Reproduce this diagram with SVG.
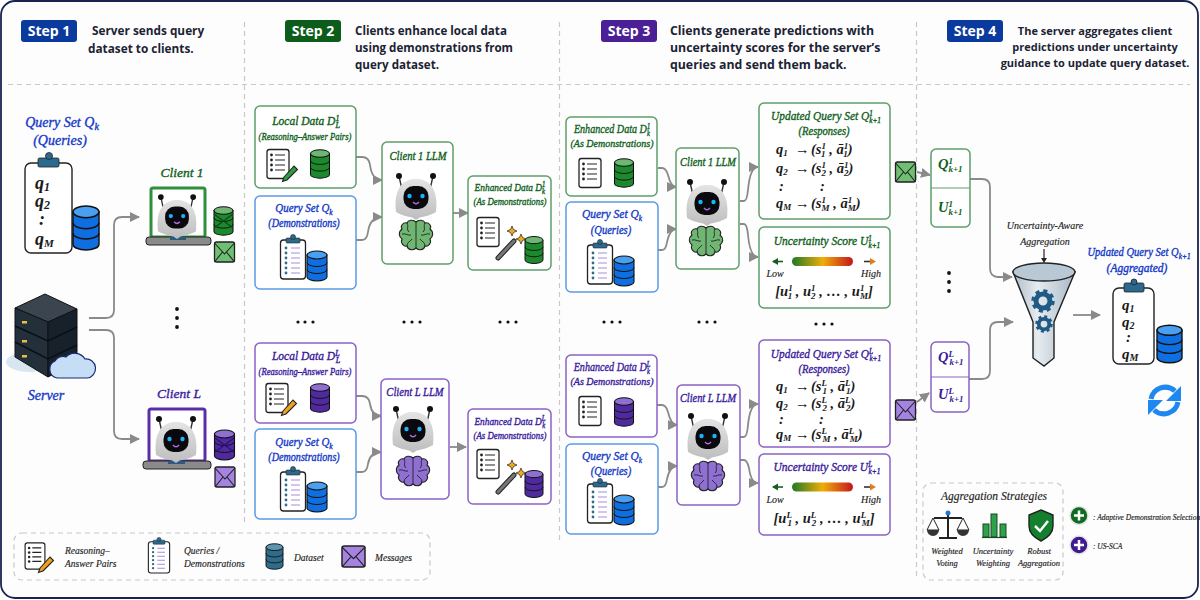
<svg xmlns="http://www.w3.org/2000/svg" width="1200" height="600" viewBox="0 0 1200 600">
<style>
.g{--a:#1c8a2c;--b:#6fb673;--e:#6fbf73;--t:#0f5f20;--s:#5d9f6b;--p:#2e9c3e}
.p{--a:#4f2a9e;--b:#8f70d2;--e:#a583e0;--t:#3a1a9c;--s:#8a62c4;--p:#f0a020}
.bl{--a:#0f6fe0;--b:#4aa0f0;--t:#1438c8;--s:#5a9be8}
.te{--a:#2f6b8a;--b:#5c95ae}
.box{fill:#fff;stroke-width:1.5}
.bg{stroke:#5d9f6b}.bp{stroke:#8a62c4}.bb{stroke:#5a9be8}
text{font-family:"Liberation Serif",serif;font-style:italic;font-weight:400;stroke-width:.35}
.tg{fill:#0f5f20;stroke:#0f5f20}.tp{fill:#3a1a9c;stroke:#3a1a9c}.tb{fill:#1438c8;stroke:#1438c8}.tk{fill:#222;stroke:#222;stroke-width:.15}
.mid{text-anchor:middle}
.t{font-size:12.5px}.st{font-size:10px}.big{font-size:14px}.sm{font-size:11.5px}
.hd{font-family:"Open Sans","Liberation Sans",sans-serif;font-style:normal;font-weight:700;font-size:12.3px;fill:#1c2333}
.bd{font-family:"Open Sans","Liberation Sans",sans-serif;font-style:normal;font-weight:700;font-size:14px;fill:#fff;text-anchor:middle}
.m{font-family:"Liberation Serif",serif;font-weight:700;font-size:14.5px;fill:#1a1a1a}
.lg{font-size:9.5px;fill:#222;stroke:#222;stroke-width:.15}
.dash{fill:none;stroke:#c8c8c8;stroke-width:1.2;stroke-dasharray:5 4}
.conn{fill:none;stroke:#8a8a8a;stroke-width:1.8;marker-end:url(#ah)}
.dbf{fill:var(--a);stroke:#111;stroke-width:1.1}
.dbt{fill:var(--b);stroke:#111;stroke-width:1.1}
.ln{fill:none;stroke:#111;stroke-width:1}
.envf{fill:var(--e);stroke:#222;stroke-width:1.3}
.brf{fill:var(--b);stroke:#222;stroke-width:1.1}
</style>
<defs>
<marker id="ah" markerUnits="userSpaceOnUse" markerWidth="11" markerHeight="11" refX="9" refY="5" orient="auto"><path d="M0,0L10,5L0,10Z" fill="#8a8a8a"/></marker>
<linearGradient id="rg" x1="0" y1="0" x2="0" y2="1"><stop offset="0" stop-color="#e4e4e4"/><stop offset="1" stop-color="#bdbdbd"/></linearGradient>
<linearGradient id="ug"><stop offset="0" stop-color="#1c7a24"/><stop offset=".5" stop-color="#f0ad0a"/><stop offset="1" stop-color="#c4161c"/></linearGradient>
<linearGradient id="fg"><stop offset="0" stop-color="#aebcc8"/><stop offset=".4" stop-color="#e6ecf0"/><stop offset="1" stop-color="#a8b7c4"/></linearGradient>
<g id="db"><path class="dbf" d="M-10,-11V11A10,4 0 0 0 10,11V-11Z"/><ellipse class="dbt" cy="-11" rx="10" ry="4"/><path class="ln" d="M-10,-3.5A10,4 0 0 0 10,-3.5M-10,3.5A10,4 0 0 0 10,3.5"/></g>
<g id="doc"><rect x="-11" y="-14.5" width="22" height="29" rx="2.5" fill="#fff" stroke="#222" stroke-width="1.3"/><path d="M-3,-9H7M-3,-4H7M-3,1H7M-3,6H7" stroke="#222" stroke-width="1.2"/><g fill="#222"><circle cx="-6.5" cy="-9" r="1.4"/><circle cx="-6.5" cy="-4" r="1.4"/><circle cx="-6.5" cy="1" r="1.4"/><circle cx="-6.5" cy="6" r="1.4"/></g></g>
<g id="pen"><path d="M-5,6L5,-5L8.500,-1.500L-2,9L-6.500,10.500Z" fill="var(--p)" stroke="#222" stroke-width="1.1"/></g>
<g id="clip"><rect x="-12.5" y="-19" width="25" height="39" rx="3" fill="#fff" stroke="#222" stroke-width="1.3"/><rect x="-7" y="-21" width="14" height="5" rx="1" fill="#2b6a8e" stroke="#222" stroke-width=".6"/><circle cy="-22" r="2.5" fill="#2b6a8e" stroke="#222" stroke-width=".6"/><path d="M-2,-11H7M-2,-6H7M-2,-1H7M-2,4H7M-2,9H7M-2,14H7" stroke="#a78bdc" stroke-width="1.2"/><g fill="#2f6b8a"><circle cx="-7" cy="-11" r="1.4"/><circle cx="-7" cy="-6" r="1.4"/><circle cx="-7" cy="-1" r="1.4"/><circle cx="-7" cy="4" r="1.4"/><circle cx="-7" cy="9" r="1.4"/><circle cx="-7" cy="14" r="1.4"/></g></g>
<g id="env"><rect class="envf" x="-10" y="-10" width="20" height="20" rx="2"/><path d="M-10,-9L0,2L10,-9M-10,10L-2,0M10,10L2,0" fill="none" stroke="#222" stroke-width="1.1"/></g>
<g id="robot"><path d="M-17,-22L-13,-4M17,-22L13,-4" stroke="#333" stroke-width="1.4"/><circle cx="-17" cy="-22" r="3" fill="#111"/><circle cx="17" cy="-22" r="3" fill="#111"/><path d="M-20,14C-23,-12 -11,-19 0,-19C11,-19 23,-12 20,14C14,18 4,19 3,20L0,22L-3,20C-4,19 -14,18 -20,14Z" fill="url(#rg)"/><rect x="-12.5" y="-12" width="25" height="23" rx="10" fill="#0a0a0e"/><circle cx="-6.5" cy="-2" r="2.2" fill="#18b4ff"/><circle cx="6.5" cy="-2" r="2.2" fill="#18b4ff"/><path d="M-3,4Q0,7.500 3,4" fill="none" stroke="#b66be0" stroke-width="1.4"/></g>
<g id="brain"><path class="brf" d="M0,-14C-3,-17 -8,-16 -9,-13C-13,-14 -16,-10 -14,-7C-18,-4 -17,1 -14,3C-16,7 -12,11 -9,10C-8,14 -3,15 0,12C3,15 8,14 9,10C12,11 16,7 14,3C17,1 18,-4 14,-7C16,-10 13,-14 9,-13C8,-16 3,-17 0,-14Z"/><path d="M0,-14V12M-9,-13C-7,-9 -10,-7 -7,-4M-14,-2C-10,-3 -8,0 -5,-1M-9,10C-9,6 -6,6 -4,3M9,-13C7,-9 10,-7 7,-4M14,-2C10,-3 8,0 5,-1M9,10C9,6 6,6 4,3" fill="none" stroke="#222" stroke-width=".9"/></g>
<g id="wand"><path d="M-10,12L6,-5" stroke="#222" stroke-width="5" stroke-linecap="round"/><path d="M-10,12L6,-5" stroke="#777" stroke-width="3" stroke-linecap="round"/><path d="M4,-20l1.500,3.500l3.500,1.500l-3.500,1.500l-1.500,3.500l-1.500,-3.500l-3.500,-1.500l3.500,-1.500zM13,-12l1.500,3.500l3.500,1.500l-3.500,1.500l-1.500,3.500l-1.500,-3.500l-3.500,-1.500l3.500,-1.500z" fill="#f2a91d" stroke="#222" stroke-width=".7"/></g>
<g id="ubar"><rect x="-32" y="-4.500" width="61" height="9" rx="4.500" fill="url(#ug)"/><path d="M-51,0H-41" stroke="#1c5a24" stroke-width="1.600"/><path d="M-52,0L-46,-3.500V3.500Z" fill="#1c5a24"/><path d="M40,0H50" stroke="#333" stroke-width="1.600"/><path d="M52,0L46,-3.500V3.500Z" fill="#e57c1a"/></g>
<g id="gear"><circle r="7" fill="none" stroke="#1f5b85" stroke-width="5"/><circle r="10" fill="none" stroke="#1f5b85" stroke-width="3.500" stroke-dasharray="4 3.850"/></g>
</defs>

<rect x="1" y="1" width="1197" height="597" rx="14" fill="#fdfdfe" stroke="#1a2350" stroke-width="1.800"/>
<g id="dividers">
<path class="dash" d="M8,84.500H1190M244.500,22V525M559.500,22V540M916.500,22V580"/>
</g>

<g id="step1-header"><rect x="21" y="20" width="56" height="22" rx="3" fill="#0b3a9e"/><text class="bd" x="49" y="36">Step 1</text><text class="hd" style="font-size:11.800px" x="92" y="35">Server sends query</text><text class="hd" style="font-size:11.800px" x="88" y="53">dataset to clients.</text></g>
<g id="step2-header"><rect x="285" y="20" width="56" height="22" rx="3" fill="#0c5c1c"/><text class="bd" x="313" y="36">Step 2</text><text class="hd" style="font-size:11.600px" x="355" y="35">Clients enhance local data</text><text class="hd" style="font-size:11.600px" x="355" y="52">using demonstrations from</text><text class="hd" style="font-size:11.600px" x="355" y="69">query dataset.</text></g>
<g id="step3-header"><rect x="601" y="20" width="56" height="22" rx="3" fill="#4b1f96"/><text class="bd" x="629" y="36">Step 3</text><text class="hd" x="670" y="35">Clients generate predictions with</text><text class="hd" x="670" y="52">uncertainty scores for the server’s</text><text class="hd" x="670" y="69">queries and send them back.</text></g>
<g id="step4-header"><rect x="947" y="20" width="56" height="22" rx="3" fill="#0b3a9e"/><text class="bd" x="975" y="36">Step 4</text><g text-anchor="middle"><text class="hd" style="font-size:11px" x="1095" y="35">The server aggregates client</text><text class="hd" style="font-size:11px" x="1095" y="51">predictions under uncertainty</text><text class="hd" style="font-size:11px" x="1095" y="67">guidance to update query dataset.</text></g></g>

<g id="connectors">
<path class="conn" d="M89,318H106Q114,318 114,310V225Q114,217 122,217H139"/>
<path class="conn" d="M89,330H106Q114,330 114,338V431Q114,439 122,439H139"/>
<path class="conn" d="M356,157H362Q369,157 370,165Q372,180 382,180"/>
<path class="conn" d="M356,240H362Q367,240 368,232Q370,217 382,217"/>
<path class="conn" d="M453,213H468"/>
<path class="conn" d="M356,396H362Q369,396 370,404Q372,416 381,416"/>
<path class="conn" d="M356,472H362Q367,472 368,464Q370,452 381,452"/>
<path class="conn" d="M450,447H466"/>
<path class="conn" d="M658,168H662Q666,168 668,175Q671,187 676,187"/>
<path class="conn" d="M658,250H662Q666,250 667,242Q670,229 676,229"/>
<path class="conn" d="M740,201H744Q747,201 748,190Q750,167 758,167"/>
<path class="conn" d="M740,224H744Q747,224 748,235Q750,257 758,257"/>
<path class="conn" d="M657,405H662Q666,405 668,412Q671,425 677,425"/>
<path class="conn" d="M658,487H662Q666,487 667,479Q670,466 677,466"/>
<path class="conn" d="M740,437H744Q747,437 748,425Q750,404 758,404"/>
<path class="conn" d="M740,460H744Q747,460 749,468Q751,483 758,483"/>
<path class="conn" d="M917,172L930,175"/>
<path class="conn" d="M917,402L929,393"/>
<path class="conn" d="M970,179H982Q990,179 990,187V268Q990,277 998,277H1012"/>
<path class="conn" d="M969,379H982Q990,379 990,371V330Q990,322 998,322H1013"/>
<path class="conn" d="M1073,315H1100"/>
<path d="M1044,249V259" stroke="#222" stroke-width="1.200"/><path d="M1044,263L1041,258H1047Z" fill="#222"/>
</g>

<g id="query-set">
<text class="big tb mid" x="62" y="127">Query Set Q<tspan font-size="10" dy="3">k</tspan></text>
<text class="big tb mid" x="60" y="145">(Queries)</text>
<rect x="25" y="163" width="47" height="90" rx="6" fill="#fff" stroke="#222" stroke-width="1.400"/>
<rect x="38" y="158" width="21" height="9" rx="1.500" fill="#2b6a8e" stroke="#222" stroke-width=".8"/><circle cx="49" cy="156" r="3.500" fill="#2b6a8e" stroke="#222" stroke-width=".8"/>
<text class="m" style="font-size:18px" x="35" y="189">q<tspan font-size="12" dy="2">1</tspan></text><text class="m" style="font-size:18px" x="35" y="207">q<tspan font-size="12" dy="2">2</tspan></text><text class="m" style="font-size:18px" x="39" y="225">:</text><text class="m" style="font-size:18px" x="35" y="245">q<tspan font-size="11" dy="2">M</tspan></text>
<use href="#db" class="bl" transform="translate(86,228) scale(1.300,1.470)"/>
</g>

<g id="server">
<ellipse cx="30" cy="362" rx="24" ry="10" fill="#d8e6f2"/>
<path d="M45,294L77,309L48,322L15,308Z" fill="#3a4550" stroke="#111"/>
<path d="M15,308L48,322V377L15,357Z" fill="#23303c" stroke="#111"/>
<path d="M77,309L48,322V377L77,362Z" fill="#17212b" stroke="#111"/>
<path d="M15,326L48,341L77,327M15,342L48,359L77,345" fill="none" stroke="#0a0f14" stroke-width="1.500"/>
<g fill="#e8c040"><rect x="22" y="321" width="5" height="2.500"/><rect x="22" y="340" width="5" height="2.500"/><rect x="22" y="355" width="5" height="2.500"/></g>
<path d="M57,378A9,9 0 0 1 55,361A9,9 0 0 1 66,357A12,12 0 0 1 85,359A9,9 0 0 1 87,378Z" fill="#c6def5" stroke="#1a2b70" stroke-width="1.200"/>
<text class="big tb mid" x="46" y="400">Server</text>
</g>

<g id="client-1">
<text class="tg mid" style="font-size:13.500px" x="182" y="177">Client 1</text>
<rect x="151" y="188" width="54" height="49" rx="2" fill="#fff" stroke="#2f8f3a" stroke-width="3"/>
<rect x="146" y="237" width="65" height="8" rx="3" fill="#8a8a8a" stroke="#222"/><rect x="170" y="237" width="16" height="3" fill="#2b5a80"/>
<use href="#robot" transform="translate(177,218) scale(.95)"/>
<use href="#db" class="g" transform="translate(223.500,221) scale(.95)"/>
<path d="M214,214L233,228M233,214L214,228" stroke="#0b4a18" stroke-width="1.200"/>
<use href="#env" class="g" transform="translate(224.500,252)"/>
</g>

<g id="client-l">
<text class="tp mid" style="font-size:13.500px" x="179" y="398">Client L</text>
<rect x="149" y="409" width="56" height="52" rx="2" fill="#fff" stroke="#5a2ea8" stroke-width="3"/>
<rect x="143" y="461" width="68" height="8" rx="3" fill="#8a8a8a" stroke="#222"/><rect x="168" y="461" width="17" height="3" fill="#2b5a80"/>
<use href="#robot" transform="translate(176,441)"/>
<use href="#db" class="p" transform="translate(224.500,445)"/>
<path d="M215,438L234,452M234,438L215,452" stroke="#2b1070" stroke-width="1.200"/>
<use href="#env" class="p" transform="translate(225,477)"/>
</g>

<g id="ellipsis-dots" fill="#111">
<circle cx="177" cy="309" r="1.900"/><circle cx="177" cy="318" r="1.900"/><circle cx="177" cy="327" r="1.900"/>
<circle cx="298" cy="322" r="1.600"/><circle cx="305" cy="322" r="1.600"/><circle cx="313" cy="322" r="1.600"/>
<circle cx="404" cy="322" r="1.600"/><circle cx="412" cy="322" r="1.600"/><circle cx="420" cy="322" r="1.600"/>
<circle cx="500" cy="322" r="1.600"/><circle cx="508" cy="322" r="1.600"/><circle cx="516" cy="322" r="1.600"/>
<circle cx="604" cy="322" r="1.600"/><circle cx="612" cy="322" r="1.600"/><circle cx="620" cy="322" r="1.600"/>
<circle cx="699" cy="322" r="1.600"/><circle cx="707" cy="322" r="1.600"/><circle cx="715" cy="322" r="1.600"/>
<circle cx="816" cy="324" r="1.600"/><circle cx="824" cy="324" r="1.600"/><circle cx="832" cy="324" r="1.600"/>
<circle cx="949" cy="273" r="1.900"/><circle cx="949" cy="282" r="1.900"/><circle cx="949" cy="291" r="1.900"/>
</g>

<!-- step 2 top -->
<g id="local-data-1" class="g"><rect class="box bg" x="255" y="106" width="101" height="82" rx="5"/>
<text class="sm tg mid" transform="translate(306,125)">Local Data  D<tspan font-size="8" dy="-4">1</tspan><tspan font-size="8" dx="-4" dy="7">L</tspan></text>
<text class="st tg mid" transform="translate(305,140) scale(.86,1)">(Reasoning–Answer Pairs)</text>
<use href="#doc" transform="translate(278,164)"/><use href="#pen" transform="translate(289,171)"/><use href="#db" transform="translate(320,164) scale(.95)"/></g>
<g id="query-set-2a" class="bl"><rect class="box bb" x="255" y="196" width="101" height="93" rx="5"/>
<text class="sm tb mid" transform="translate(304,212) scale(.95,1)">Query Set  Q<tspan font-size="8" dy="3">k</tspan></text>
<text class="sm tb mid" transform="translate(304,227) scale(.88,1)">(Demonstrations)</text>
<use href="#clip" transform="translate(293,259)"/><use href="#db" transform="translate(317,266)"/></g>
<g id="client-1-llm-a" class="g"><rect class="box bg" x="382" y="142" width="71" height="122" rx="5"/>
<text class="sm tg mid" transform="translate(418,160) scale(.92,1)">Client 1 LLM</text>
<use href="#robot" transform="translate(416,198)"/><use href="#brain" transform="translate(416,236)"/></g>
<g id="enhanced-1a" class="g"><rect class="box bg" x="468" y="176" width="83" height="94" rx="5"/>
<text class="tg mid" style="font-size:11px" transform="translate(510,191) scale(.85,1)">Enhanced Data D<tspan font-size="8" dy="-4">1</tspan><tspan font-size="8" dx="-4" dy="7">k</tspan></text>
<text class="st tg mid" transform="translate(510,205) scale(.88,1)">(As Demonstrations)</text>
<use href="#doc" transform="translate(488,232)"/><use href="#wand" transform="translate(508,246)"/><use href="#db" transform="translate(534,250) scale(.9)"/></g>

<!-- step 2 bottom -->
<g id="local-data-l" class="p"><rect class="box bp" x="255" y="343" width="101" height="80" rx="5"/>
<text class="sm tp mid" transform="translate(306,360)">Local Data  D<tspan font-size="8" dy="-4">L</tspan><tspan font-size="8" dx="-4" dy="7">L</tspan></text>
<text class="st tp mid" transform="translate(305,375) scale(.86,1)">(Reasoning–Answer Pairs)</text>
<use href="#doc" transform="translate(277,398)"/><use href="#pen" transform="translate(288,405)"/><use href="#db" transform="translate(320,398) scale(.95)"/></g>
<g id="query-set-2b" class="bl"><rect class="box bb" x="255" y="429" width="101" height="90" rx="5"/>
<text class="sm tb mid" transform="translate(304,446) scale(.95,1)">Query Set  Q<tspan font-size="8" dy="3">k</tspan></text>
<text class="sm tb mid" transform="translate(304,461) scale(.88,1)">(Demonstrations)</text>
<use href="#clip" transform="translate(293,491)"/><use href="#db" transform="translate(317,497)"/></g>
<g id="client-l-llm-a" class="p"><rect class="box bp" x="381" y="379" width="68" height="120" rx="5"/>
<text class="sm tp mid" transform="translate(415,396) scale(.92,1)">Client L LLM</text>
<use href="#robot" transform="translate(413,431)"/><use href="#brain" transform="translate(413,472)"/></g>
<g id="enhanced-la" class="p"><rect class="box bp" x="468" y="409" width="83" height="95" rx="5"/>
<text class="tp mid" style="font-size:11px" transform="translate(510,425) scale(.85,1)">Enhanced Data D<tspan font-size="8" dy="-4">L</tspan><tspan font-size="8" dx="-4" dy="7">k</tspan></text>
<text class="st tp mid" transform="translate(510,439) scale(.88,1)">(As Demonstrations)</text>
<use href="#doc" transform="translate(488,464)"/><use href="#wand" transform="translate(508,480)"/><use href="#db" transform="translate(534,484) scale(.9)"/></g>

<!-- step 3 top -->
<g id="enhanced-1b" class="g"><rect class="box bg" x="566" y="117" width="91" height="79" rx="5"/>
<text class="t tg mid" transform="translate(612,133) scale(.81,1)">Enhanced Data D<tspan font-size="8" dy="-4">1</tspan><tspan font-size="8" dx="-4" dy="7">k</tspan></text>
<text class="tg mid" style="font-size:11px" transform="translate(612,147) scale(.91,1)">(As Demonstrations)</text>
<use href="#doc" transform="translate(590,173)"/><use href="#db" transform="translate(624,173) scale(.95)"/></g>
<g id="query-set-3a" class="bl"><rect class="box bb" x="566" y="202" width="92" height="90" rx="5"/>
<text class="t tb mid" transform="translate(612,218) scale(.92,1)">Query Set  Q<tspan font-size="8" dy="3">k</tspan></text>
<text class="sm tb mid" transform="translate(611,234) scale(.92,1)">(Queries)</text>
<use href="#clip" transform="translate(600,264)"/><use href="#db" transform="translate(624,271)"/></g>
<g id="client-1-llm-b" class="g"><rect class="box bg" x="676" y="148" width="63" height="121" rx="5"/>
<text class="sm tg mid" transform="translate(708,166) scale(.9,1)">Client 1 LLM</text>
<use href="#robot" transform="translate(707,204)"/><use href="#brain" transform="translate(706,242)"/></g>
<g id="updated-1" class="g"><rect class="box bg" x="759" y="103" width="131" height="116" rx="5"/>
<text class="t tg mid" transform="translate(826,120) scale(.91,1)">Updated Query Set  Q<tspan font-size="8" dy="-4">1</tspan><tspan font-size="8" dx="-4" dy="7">k+1</tspan></text>
<text class="sm tg mid" transform="translate(824,135) scale(.92,1)">(Responses)</text>
<text class="m" x="776" y="154">q<tspan font-size="9" dy="2">1</tspan><tspan x="795" dy="-2">→</tspan><tspan x="811">(s</tspan><tspan font-size="9" dy="-5">1</tspan><tspan font-size="9" dx="-4.500" dy="8">1</tspan><tspan dy="-3"> , ā</tspan><tspan font-size="9" dy="-5">1</tspan><tspan font-size="9" dx="-4.500" dy="8">1</tspan><tspan dy="-3">)</tspan></text>
<text class="m" x="776" y="173">q<tspan font-size="9" dy="2">2</tspan><tspan x="795" dy="-2">→</tspan><tspan x="811">(s</tspan><tspan font-size="9" dy="-5">1</tspan><tspan font-size="9" dx="-4.500" dy="8">2</tspan><tspan dy="-3"> , ā</tspan><tspan font-size="9" dy="-5">1</tspan><tspan font-size="9" dx="-4.500" dy="8">2</tspan><tspan dy="-3">)</tspan></text>
<text class="m" x="779" y="191">:</text><text class="m" x="820" y="191">:</text>
<text class="m" x="776" y="208">q<tspan font-size="9" dy="2">M</tspan><tspan x="795" dy="-2">→</tspan><tspan x="811">(s</tspan><tspan font-size="9" dy="-5">1</tspan><tspan font-size="9" dx="-4.500" dy="8">M</tspan><tspan dy="-3"> , ā</tspan><tspan font-size="9" dy="-5">1</tspan><tspan font-size="9" dx="-4.500" dy="8">M</tspan><tspan dy="-3">)</tspan></text></g>
<g id="uncertainty-1" class="g"><rect class="box bg" x="759" y="227" width="131" height="81" rx="5"/>
<text class="t tg mid" transform="translate(827,245) scale(.92,1)">Uncertainty Score  U<tspan font-size="8" dy="-4">1</tspan><tspan font-size="8" dx="-4" dy="7">k+1</tspan></text>
<use href="#ubar" transform="translate(824,261.500)"/>
<text class="st tk mid" x="775" y="277">Low</text><text class="st tk mid" x="871" y="277">High</text>
<text class="m mid" x="824" y="296">[u<tspan font-size="9" dy="-5">1</tspan><tspan font-size="9" dx="-4.500" dy="8">1</tspan><tspan dy="-3"> , u</tspan><tspan font-size="9" dy="-5">1</tspan><tspan font-size="9" dx="-4.500" dy="8">2</tspan><tspan dy="-3"> , … , u</tspan><tspan font-size="9" dy="-5">1</tspan><tspan font-size="9" dx="-4.500" dy="8">M</tspan><tspan dy="-3">]</tspan></text></g>

<!-- step 3 bottom -->
<g id="enhanced-lb" class="p"><rect class="box bp" x="566" y="355" width="91" height="82" rx="5"/>
<text class="t tp mid" transform="translate(612,371) scale(.81,1)">Enhanced Data D<tspan font-size="8" dy="-4">L</tspan><tspan font-size="8" dx="-4" dy="7">k</tspan></text>
<text class="tp mid" style="font-size:11px" transform="translate(612,385) scale(.91,1)">(As Demonstrations)</text>
<use href="#doc" transform="translate(590,411)"/><use href="#db" transform="translate(624,412) scale(.95)"/></g>
<g id="query-set-3b" class="bl"><rect class="box bb" x="566" y="444" width="92" height="90" rx="5"/>
<text class="t tb mid" transform="translate(612,460) scale(.92,1)">Query Set  Q<tspan font-size="8" dy="3">k</tspan></text>
<text class="sm tb mid" transform="translate(611,475) scale(.92,1)">(Queries)</text>
<use href="#clip" transform="translate(600,503)"/><use href="#db" transform="translate(624,510)"/></g>
<g id="client-l-llm-b" class="p"><rect class="box bp" x="677" y="385" width="63" height="120" rx="5"/>
<text class="sm tp mid" transform="translate(708,402) scale(.9,1)">Client L LLM</text>
<use href="#robot" transform="translate(708,438)"/><use href="#brain" transform="translate(708,477)"/></g>
<g id="updated-l" class="p"><rect class="box bp" x="759" y="340" width="131" height="107" rx="5"/>
<text class="t tp mid" transform="translate(826,358) scale(.91,1)">Updated Query Set  Q<tspan font-size="8" dy="-4">L</tspan><tspan font-size="8" dx="-4" dy="7">k+1</tspan></text>
<text class="sm tp mid" transform="translate(824,373) scale(.92,1)">(Responses)</text>
<text class="m" x="776" y="391">q<tspan font-size="9" dy="2">1</tspan><tspan x="795" dy="-2">→</tspan><tspan x="811">(s</tspan><tspan font-size="9" dy="-5">L</tspan><tspan font-size="9" dx="-4.500" dy="8">1</tspan><tspan dy="-3"> , ā</tspan><tspan font-size="9" dy="-5">L</tspan><tspan font-size="9" dx="-4.500" dy="8">1</tspan><tspan dy="-3">)</tspan></text>
<text class="m" x="776" y="408">q<tspan font-size="9" dy="2">2</tspan><tspan x="795" dy="-2">→</tspan><tspan x="811">(s</tspan><tspan font-size="9" dy="-5">L</tspan><tspan font-size="9" dx="-4.500" dy="8">2</tspan><tspan dy="-3"> , ā</tspan><tspan font-size="9" dy="-5">L</tspan><tspan font-size="9" dx="-4.500" dy="8">2</tspan><tspan dy="-3">)</tspan></text>
<text class="m" x="779" y="424">:</text><text class="m" x="819" y="424">:</text>
<text class="m" x="776" y="439">q<tspan font-size="9" dy="2">M</tspan><tspan x="795" dy="-2">→</tspan><tspan x="811">(s</tspan><tspan font-size="9" dy="-5">L</tspan><tspan font-size="9" dx="-4.500" dy="8">M</tspan><tspan dy="-3"> , ā</tspan><tspan font-size="9" dy="-5">L</tspan><tspan font-size="9" dx="-4.500" dy="8">M</tspan><tspan dy="-3">)</tspan></text></g>
<g id="uncertainty-l" class="p"><rect class="box bp" x="759" y="454" width="131" height="81" rx="5"/>
<text class="t tp mid" transform="translate(827,471) scale(.92,1)">Uncertainty Score  U<tspan font-size="8" dy="-4">L</tspan><tspan font-size="8" dx="-4" dy="7">k+1</tspan></text>
<use href="#ubar" transform="translate(824,487)"/>
<text class="st tk mid" x="775" y="503">Low</text><text class="st tk mid" x="871" y="503">High</text>
<text class="m mid" x="824" y="523">[u<tspan font-size="9" dy="-5">L</tspan><tspan font-size="9" dx="-4.500" dy="8">1</tspan><tspan dy="-3"> , u</tspan><tspan font-size="9" dy="-5">L</tspan><tspan font-size="9" dx="-4.500" dy="8">2</tspan><tspan dy="-3"> , … , u</tspan><tspan font-size="9" dy="-5">L</tspan><tspan font-size="9" dx="-4.500" dy="8">M</tspan><tspan dy="-3">]</tspan></text></g>

<!-- step 4 -->
<use id="envelope-1" href="#env" class="g" transform="translate(905.500,172)"/>
<use id="envelope-l" href="#env" class="p" transform="translate(905.500,410)"/>
<g id="qu-1"><rect class="box bg" x="931" y="149" width="39" height="78" rx="5"/><path d="M931,188H970" stroke="#5d9f6b" stroke-width="1.200"/>
<text class="m" style="fill:#0f5f20" x="938" y="169">Q<tspan font-size="9" dy="-5">1</tspan><tspan font-size="9" dx="-4.500" dy="8">k+1</tspan></text>
<text class="m" style="fill:#0f5f20" x="938" y="212">U<tspan font-size="9" dy="-5">1</tspan><tspan font-size="9" dx="-4.500" dy="8">k+1</tspan></text></g>
<g id="qu-l"><rect class="box bp" x="931" y="342" width="38" height="70" rx="5"/><path d="M931,377H969" stroke="#8a62c4" stroke-width="1.200"/>
<text class="m" style="fill:#3a1a9c" x="938" y="362">Q<tspan font-size="9" dy="-5">L</tspan><tspan font-size="9" dx="-4.500" dy="8">k+1</tspan></text>
<text class="m" style="fill:#3a1a9c" x="938" y="399">U<tspan font-size="9" dy="-5">L</tspan><tspan font-size="9" dx="-4.500" dy="8">k+1</tspan></text></g>
<g id="funnel">
<text class="tk mid" x="1045" y="229" font-size="10">Uncertainty-Aware</text>
<text class="tk mid" x="1045" y="245" font-size="10">Aggregation</text>
<path d="M1013,272L1033,322V358L1044,366L1054,358V322L1075,272Z" fill="url(#fg)" stroke="#222" stroke-width="1.400"/>
<ellipse cx="1044" cy="272" rx="31" ry="9" fill="#b8c8d4" stroke="#222" stroke-width="1.400"/>
<use href="#gear" transform="translate(1043,301)"/><use href="#gear" transform="translate(1044,324) scale(.75)"/>
</g>
<g id="updated-aggregated">
<text class="sm tb mid" transform="translate(1139,256) scale(.92,1)">Updated Query Set  Q<tspan font-size="8" dy="3">k+1</tspan></text>
<text class="sm tb mid" transform="translate(1137,272)">(Aggregated)</text>
<rect x="1113" y="288" width="41" height="76" rx="6" fill="#fff" stroke="#222" stroke-width="1.400"/>
<rect x="1124" y="283" width="20" height="9" rx="1.500" fill="#2b6a8e" stroke="#222" stroke-width=".8"/><circle cx="1134" cy="282" r="3" fill="#2b6a8e" stroke="#222" stroke-width=".8"/>
<text class="m" style="font-size:15px" x="1122" y="310">q<tspan font-size="10" dy="2">1</tspan></text><text class="m" style="font-size:15px" x="1122" y="327">q<tspan font-size="10" dy="2">2</tspan></text><text class="m" style="font-size:15px" x="1126" y="342">:</text><text class="m" style="font-size:15px" x="1122" y="359">q<tspan font-size="10" dy="2">M</tspan></text>
<use href="#db" class="bl" transform="translate(1169.500,344) scale(1.250)"/>
</g>
<g id="refresh" fill="none" stroke="#1e88f0" stroke-width="5">
<path d="M1151,399A14.500,14.500 0 0 1 1175,391"/><path d="M1178,402A14.500,14.500 0 0 1 1154,410"/>
<path d="M1181,386V401H1166Z" fill="#1e88f0" stroke="none"/><path d="M1148,415V400H1163Z" fill="#1e88f0" stroke="none"/>
</g>

<g id="aggregation-strategies">
<rect class="dash" x="923" y="483" width="140" height="97" rx="8"/>
<text class="tk mid" x="994" y="500" font-size="11.500">Aggregation Strategies</text>
<g id="scale"><path d="M948,513V537M939,538H957M934,518H962" stroke="#222" stroke-width="2" fill="none"/><path d="M933,518L927,530H939ZM963,518L957,530H969Z" fill="none" stroke="#222"/><path d="M927,530A6,6 0 0 0 939,530ZM957,530A6,6 0 0 0 969,530Z" fill="#333"/><circle cx="948" cy="513" r="2.500" fill="#1e78d0"/></g>
<g id="bars" fill="#2da24a" stroke="#174a22"><rect x="983" y="524" width="6" height="13"/><rect x="991" y="514" width="6" height="23"/><rect x="1000" y="524" width="6" height="13"/><path d="M982,537.500H1007" stroke-width="1.200"/></g>
<g id="shield"><path d="M1041,510L1053,515V526C1053,534 1047,538 1041,541C1035,538 1029,534 1029,526V515Z" fill="#14802e" stroke="#222" stroke-width="1.400"/><path d="M1035,526L1040,531L1048,521" fill="none" stroke="#fff" stroke-width="2.500"/></g>
<g font-size="8.500" text-anchor="middle"><text class="tk" x="947" y="554">Weighted</text><text class="tk" x="947" y="566">Voting</text><text class="tk" x="993" y="554">Uncertainty</text><text class="tk" x="993" y="566">Weighting</text><text class="tk" x="1039" y="554">Robust</text><text class="tk" x="1039" y="566">Aggregation</text></g>
</g>
<g id="key-plus">
<circle cx="1079" cy="515.500" r="9" fill="#0f6b22" stroke="#e5e5e5" stroke-width="1.500"/><path d="M1074,515.500H1084M1079,510.500V520.500" stroke="#fff" stroke-width="2.500"/>
<circle cx="1079" cy="545" r="9" fill="#3f1a90" stroke="#e5e5e5" stroke-width="1.500"/><path d="M1074,545H1084M1079,540V550" stroke="#fff" stroke-width="2.500"/>
<text class="tk" x="1093" y="520" font-size="7.500">: Adaptive Demonstration Selection</text>
<text class="tk" x="1093" y="549" font-size="7.500">: US-SCA</text>
</g>

<g id="legend">
<rect class="dash" x="14" y="533" width="416" height="47" rx="8"/>
<g class="p"><use href="#doc" transform="translate(35,556) scale(.9)"/><use href="#pen" transform="translate(45,562)"/><use href="#env" transform="translate(353.500,556.500) scale(1.150,1.050)"/></g>
<text class="lg" x="65" y="554">Reasoning–</text><text class="lg" x="65" y="567">Answer Pairs</text>
<use href="#clip" transform="translate(159,557) scale(.85,.8)"/>
<text class="lg" x="184" y="554">Queries /</text><text class="lg" x="184" y="567">Demonstrations</text>
<use href="#db" class="te" transform="translate(274.500,556.500) scale(.85)"/>
<text class="lg" x="294" y="561">Dataset</text>
<text class="lg" x="375" y="561">Messages</text>
</g>
</svg>
